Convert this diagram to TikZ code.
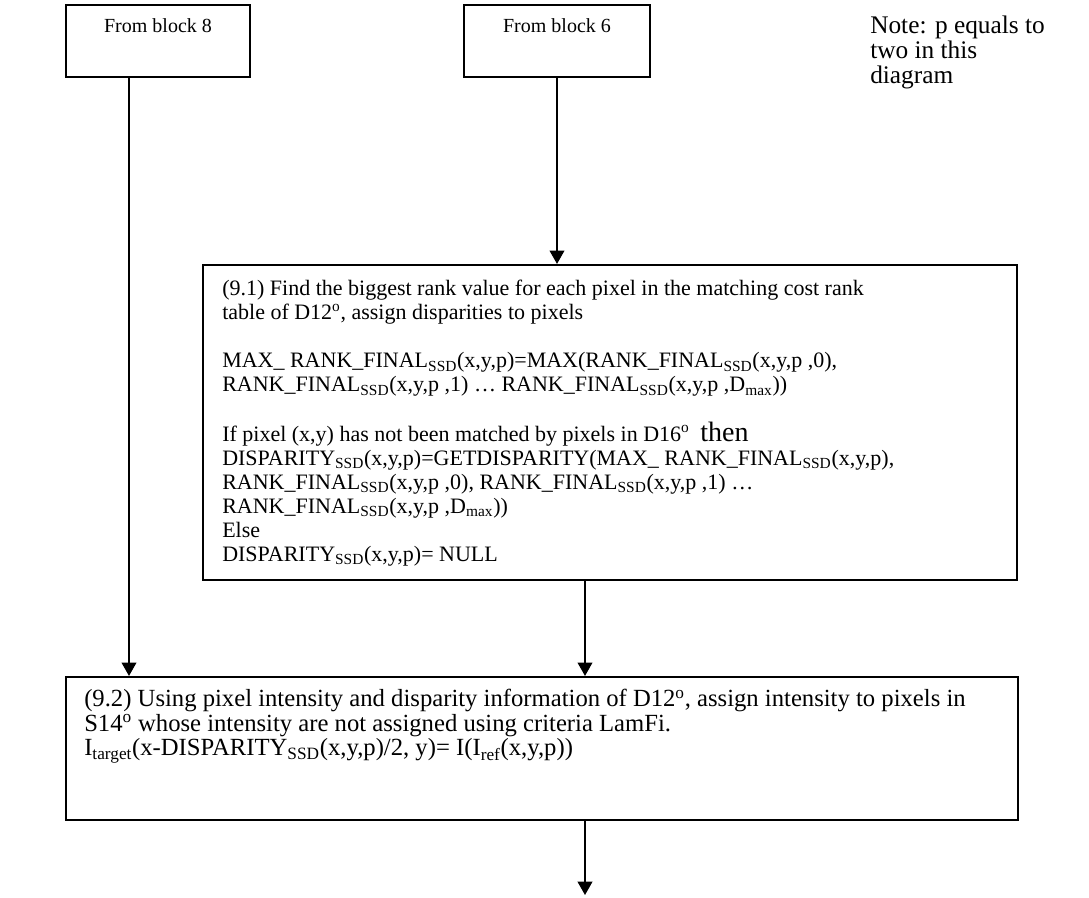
\documentclass[tikz,border=0pt]{standalone}
\usepackage{fontspec}
\setmainfont{Liberation Serif}
\usetikzlibrary{arrows.meta,fit}
\begin{document}
\begin{tikzpicture}[x=0.75pt,y=-0.75pt,
  box/.style={draw, line width=1.6pt, inner sep=0pt},
  txt/.style={inner sep=0pt, align=left, anchor=north west, font=\fontsize{16.5}{18}\selectfont},
  lbl/.style={inner sep=0pt, font=\fontsize{15}{18}\selectfont},
  flow/.style={line width=1.3pt, -{Triangle[width=11pt,length=10pt]}}]
\useasboundingbox (0,0) rectangle (1089,897);

% source blocks
\node[box, fit={(66,5)(250,77)}] (b8) {};
\node[box, fit={(464,5)(650,77)}] (b6) {};
\node[lbl] (t8) at (158,26) {From block 8};
\node[lbl] (t6) at (557,26) {From block 6};

% side note
\node[txt, font=\fontsize{19}{18.5}\selectfont] (note) at (870,16) {Note: p equals to\\two in this\\diagram};

% step 9.1
\node[box, fit={(203,265)(1017,580)}] (b91) {};
\node[txt] (t91) at (222,280) {(9.1) Find the biggest rank value for each pixel in the matching cost rank\\
table of D12\textsuperscript{o}, assign disparities to pixels\\[18pt]
MAX\_ RANK\_FINAL\textsubscript{SSD}(x,y,p)=MAX(RANK\_FINAL\textsubscript{SSD}(x,y,p ,0),\\
RANK\_FINAL\textsubscript{SSD}(x,y,p ,1) … RANK\_FINAL\textsubscript{SSD}(x,y,p ,D\textsubscript{max}))\\[18pt]
If pixel (x,y) has not been matched by pixels in D16\textsuperscript{o}\ \ {\fontsize{21}{18}\selectfont then}\\
DISPARITY\textsubscript{SSD}(x,y,p)=GETDISPARITY(MAX\_ RANK\_FINAL\textsubscript{SSD}(x,y,p),\\
RANK\_FINAL\textsubscript{SSD}(x,y,p ,0), RANK\_FINAL\textsubscript{SSD}(x,y,p ,1) …\\
RANK\_FINAL\textsubscript{SSD}(x,y,p ,D\textsubscript{max}))\\
Else\\
DISPARITY\textsubscript{SSD}(x,y,p)= NULL};

% step 9.2
\node[box, fit={(66,677)(1018,820)}] (b92) {};
\node[txt, font=\fontsize{18.5}{18.5}\selectfont] (t92) at (84,689) {(9.2) Using pixel intensity and disparity information of D12\textsuperscript{o}, assign intensity to pixels in\\
S14\textsuperscript{o} whose intensity are not assigned using criteria LamFi.\\
I\textsubscript{target}(x-DISPARITY\textsubscript{SSD}(x,y,p)/2, y)= I(I\textsubscript{ref}(x,y,p))};

% connectors
\coordinate (c8) at (129,0);
\coordinate (cm) at (585,0);
\coordinate (out) at (585,895);
\draw[flow] (b8.south -| c8) -- (b92.north -| c8);
\draw[flow] (b6.south) -- (b91.north -| b6.south);
\draw[flow] (b91.south -| cm) -- (b92.north -| cm);
\draw[flow] (b92.south -| cm) -- (out);
\end{tikzpicture}
\end{document}
